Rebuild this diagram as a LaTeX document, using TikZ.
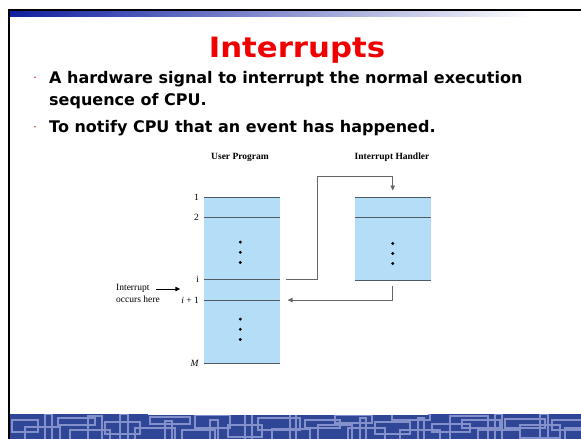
\documentclass[tikz,border=0pt]{standalone}
\usepackage{fontspec}
\usepackage{graphicx}
\setmainfont{Liberation Serif}
\newfontfamily\slidefont{DejaVu Sans}
\usetikzlibrary{positioning,arrows.meta,calc}
\definecolor{boxblue}{HTML}{B4DEF8}
\definecolor{rulegray}{HTML}{4F5A63}
\definecolor{flowgray}{HTML}{666666}
\definecolor{bandblue}{HTML}{2F4595}
\definecolor{bandline}{HTML}{8490CC}
\definecolor{bardark}{HTML}{0F1FA0}
\definecolor{titlered}{HTML}{F00000}
\definecolor{bulletred}{HTML}{E03030}
\begin{document}
\begin{tikzpicture}[x=1pt,y=-1pt,
  stack/.style={fill=boxblue,inner sep=0pt,minimum width=75.7pt},
  stackline/.style={draw=rulegray,line width=1.2pt},
  flow/.style={draw=flowgray,line width=0.9pt,-{Triangle[length=5pt,width=4.4pt]}},
  rowlabel/.style={inner sep=0pt,font=\fontsize{9.5}{11}\selectfont},
  header/.style={inner sep=0pt,font=\bfseries\fontsize{9.5}{11}\selectfont},
  dot/.style={circle,fill=black,inner sep=0pt,minimum size=3.2pt},
  bulletline/.style={anchor=base west,inner sep=0pt,font=\slidefont\bfseries\fontsize{16}{20}\selectfont},
  bulletmark/.style={circle,fill=bulletred,inner sep=0pt,minimum size=1.8pt}]
\useasboundingbox (0,0) rectangle (581,439);
% slide frame and top bar
\shade[left color=bardark,right color=white] (10,11) rectangle (533,16.7);
\draw[black,line width=2pt] (9,439) |- (581,10);
% bottom band
\fill[bandblue] (10,414) rectangle (581,439);
\begin{scope}
\clip (10,414) rectangle (581,439);
\foreach \xa/\ya/\xb/\yb in {12/420/38/432, 25/427/60/445, 45/414/52/445, 58/418/95/425,
  70/430/110/445, 88/416/102/440, 105/422/140/434, 120/414/128/445, 135/428/175/445,
  150/417/190/424, 165/421/172/445, 182/430/215/445, 195/415/230/428, 210/420/218/445,
  228/425/262/437, 245/414/252/445, 258/418/300/430, 272/429/310/445, 290/414/296/445,
  305/420/340/428, 318/425/352/445, 335/415/372/423, 348/428/385/445, 360/418/366/445,
  375/422/410/434, 392/414/430/420, 400/430/440/445, 418/418/424/445, 432/424/470/432,
  450/416/488/445, 462/420/500/428, 478/430/520/445, 495/414/502/445, 505/419/545/428,
  520/425/560/438, 540/414/548/445, 552/420/590/430, 565/428/600/445}
  \draw[bandline,line width=1.2pt] (\xa,\ya) rectangle (\xb,\yb);
\end{scope}
\fill[white] (148,413) rectangle (428,415);
% title and bullets
\node[anchor=base,text=titlered,inner sep=0pt,font=\slidefont\bfseries\fontsize{28}{34}\selectfont]
  (title) at (297,57.3) {\scalebox{1.1}[1]{Interrupts}};
\node[bulletline] (pointa) at (49,83.3) {A hardware signal to interrupt the normal execution};
\node[bulletline] (pointb) at (49,105) {sequence of CPU.};
\node[bulletline] (pointc) at (49,132.7) {To notify CPU that an event has happened.};
\node[bulletmark] at (35,77.3) {};
\node[bulletmark] at (35,126.7) {};
% program stacks
\node[stack,minimum height=165.7pt] (user) at (242.15,280.15) {};
\node[stack,minimum height=82.3pt] (handler) at (393,238.85) {};
\node[header] (userhead) at (240,157) {User Program};
\node[header] (handlerhead) at (392,157) {Interrupt Handler};
\coordinate (u1) at (user.north west);
\coordinate (u2) at ($(user.north west)+(0,20.4)$);
\coordinate (ui) at ($(user.north west)+(0,82.7)$);
\coordinate (uip) at ($(user.north west)+(0,103)$);
\coordinate (uM) at (user.south west);
\foreach \r in {u1,u2,ui,uip,uM}
  \draw[stackline] (\r) -- (\r -| user.east);
\coordinate (h1) at (handler.north west);
\coordinate (h2) at ($(handler.north west)+(0,20)$);
\coordinate (hend) at (handler.south west);
\foreach \r in {h1,h2,hend}
  \draw[stackline] (\r) -- (\r -| handler.east);
\node[rowlabel,left=5pt of u1] {1};
\node[rowlabel,left=5pt of u2] {2};
\node[rowlabel,left=5pt of ui] {i};
\node[rowlabel,left=5pt of uip] {\textit{i} + 1};
\node[rowlabel,left=5pt of uM] {\textit{M}};
\foreach \d in {45,55.2,65.4,122,132.2,142.4}
  \node[dot] at ($(user.north)+(-1.85,\d)$) {};
\foreach \d in {46,56,66}
  \node[dot] at ($(handler.north)+(-0.3,\d)$) {};
% interrupt point
\node[rowlabel,anchor=west,align=left,font=\fontsize{9.5}{12}\selectfont] (occurs) at (116,293.7) {Interrupt\\occurs here};
\coordinate (hitstart) at (156,289);
\coordinate (hitend) at (180.3,289);
\draw[flow,draw=black] (hitstart) -- (hitend);
% transfer of control
\coordinate (leave) at ($(user.east |- ui)+(5.7,0)$);
\coordinate (enter) at ($(handler.north)+(-0.3,-7)$);
\coordinate (back) at ($(handler.south)+(-0.3,6)$);
\coordinate (resume) at ($(user.east |- uip)+(7.3,0)$);
\draw[flow] (leave) -| ($(leave)+(31.6,-103.7)$) -| (enter);
\draw[flow] (back) |- (resume);
\end{tikzpicture}
\end{document}
